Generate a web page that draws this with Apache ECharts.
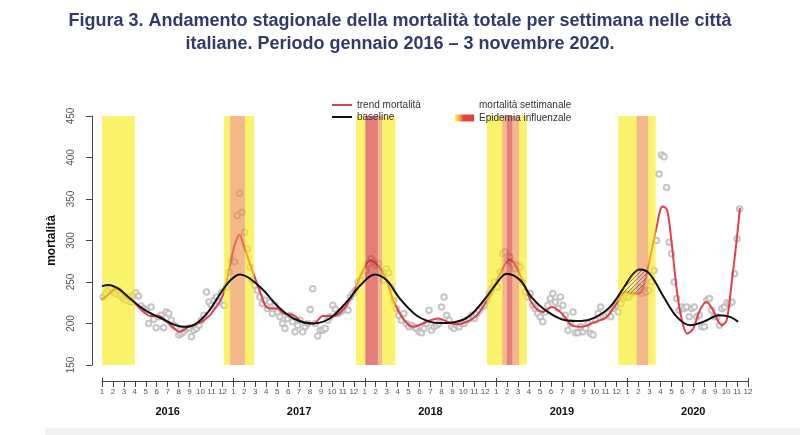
<!DOCTYPE html>
<html><head><meta charset="utf-8">
<script src="https://cdn.jsdelivr.net/npm/echarts/dist/echarts.min.js"></script>
<style>html,body{margin:0;padding:0;background:#fff}#c{width:800px;height:435px}</style>
</head><body><div id="c"></div><script>
// ---- data (x in months since Jan 2016) ----
const years = ['2016','2017','2018','2019','2020'];
const monthTickLabels = ['1','2','3','4','5','6','7','8','9','10','11','12'];
const yTicks = [150,200,250,300,350,400,450];

const w2016 = [232,236,240,243,238, 236,240,233,230, 228,232,226,234, 237,233,221,218, 216,200,220,205,195, 208,210,195,214, 212,204,198,196, 186,188,190,193,195, 184,192,194,198, 204,210,238,226, 222,228,232,226,238, 222,244,262,276];
const w2017 = [274,330,357,334,310, 290,268,252,246, 240,232,224,228, 218,226,212,222, 214,208,200,194,206, 210,202,190,198, 204,190,196,200, 217,242,200,185,192, 192,194,204,208, 222,217,212,214, 216,220,216,232,236, 240,250,252,258];
const w2018 = [264,272,278,274,270, 272,262,252,266, 261,244,228,218, 210,204,212,200, 196,198,196,194,190, 189,194,200,216, 192,196,198,200, 220,232,210,204,196, 194,198,196,200, 200,204,206,210, 206,212,216,220,222, 228,236,242,250];
const w2019 = [244,262,284,286,276, 280,272,266,270, 268,250,238,232, 236,222,218,212, 208,202,214,222,230, 236,226,218,232, 222,210,192,200, 214,189,189,196,190, 194,200,188,186, 204,212,220,208, 210,212,208,218,222, 214,224,230,232];
const w2020 = [232,236,238,240,244, 236,240,238,240, 250,264,300,380, 403,401,364,298, 284,250,230,216,220, 218,220,208,218, 220,208,210,196, 196,228,230,216,208, 208,198,218,220, 225,224,226,260, 302,338];

const trendX = [0,0.5,1.0,1.34,1.8,2.4,3.0,3.8,4.4,5.2,5.9,6.5,7.1,7.9,8.5,9.1,9.7,10.2,10.7,11.1,11.5,11.85,12.2,12.55,12.9,13.4,14.0,14.6,15.0,15.5,16.0,16.6,17.5,18.4,19.3,20.2,21.1,22.0,22.95,23.7,24.5,25.2,26.0,26.6,27.5,28.4,29.3,30.0,30.7,31.6,32.5,33.3,34.1,34.9,35.6,36.5,37.26,38.0,38.8,39.5,40.3,41.1,42.0,42.9,43.8,44.7,45.5,46.1,47.0,47.8,48.5,49.1,49.6,50.2,50.65,51.2,51.6,52.0,52.5,52.9,53.45,54.0,54.6,55.2,55.8,56.6,57.05,57.5,57.96,58.26];
const trendY = [229,234,240,242,238,231,224,214,209,209,202,195,190,196,199,202,208,216,225,236,258,280,298,307,296,276,254,232,220,218,218,212,210,201,200,209,209,216,236,260,276,270,252,228,206,196,200,204,206,202,199,202,208,222,238,264,277,264,238,220,214,220,212,198,196,200,204,208,224,238,236,236,252,288,316,341,337,300,240,208,188,194,216,226,216,198,204,248,300,339];

const baseX = [0,0.6,1.5,2.4,3.3,4.2,5.45,6.5,7.5,8.5,9.7,10.9,11.8,12.6,13.3,14.0,14.9,15.95,17.5,19.3,20.8,22.35,23.6,24.9,26.0,27.2,28.7,30.0,31.0,31.9,33.45,35.0,35.9,36.96,38.2,39.2,40.5,42.3,43.8,45.0,46.4,47.6,48.4,49.1,50.0,51.3,52.5,53.7,54.9,56.4,57.35,58.1];
const baseY = [245,246.5,242,232,222,214,206,199,196,199,214,238,253,259,256,249,238,222,206,200,206,226,246,259,252,230,210,202,200.5,201,208,230,246,260,252,232,216,204,203,207,220,242,258,265,260,232,208,198,202,210,208,202];

const hatchX = [47.45,47.8,48.1,48.4,48.7,49.0,49.3,49.6,49.85];
const hatchTop = [237,247,254,259,263,265,264,263,261];
const hatchBottom = [236,238,237,236,236,236,241,252,260];

// epidemic periods: [start month, end month, intensity]
const bandStart = [0, 11.15,11.7,13.06, 23.2,24.05,25.2,25.6, 35.15,36.55,36.96,37.5,38.1, 47.15,48.83,49.9];
const bandEnd   = [3.0, 11.7,13.06,13.9, 24.05,25.2,25.6,26.8, 36.55,36.96,37.5,38.1,38.8, 48.83,49.9,50.57];
const bandLevel = ['low','low','mid','low','low','high','mid','low','low','mid','high','mid','low','low','mid','low'];

// ---- build ----
const levelColor = {low:'rgba(248,235,8,0.6)', mid:'rgba(235,138,63,0.6)', high:'rgba(208,40,36,0.6)'};
const weekly = [w2016,w2017,w2018,w2019,w2020];
const scatterData = [];
weekly.forEach((arr, yi) => arr.forEach((v, w) => scatterData.push([yi*12 + (w+0.5)*12/52.18, v])));
const trendData = trendX.map((x,i)=>[x, trendY[i]]);
const baseData = baseX.map((x,i)=>[x, baseY[i]]);
const bandData = bandStart.map((s,i)=>[{xAxis:s, itemStyle:{color:levelColor[bandLevel[i]]}},{xAxis:bandEnd[i]}]);

const pc = document.createElement('canvas'); pc.width = 4; pc.height = 4;
const px = pc.getContext('2d'); px.strokeStyle = '#6a60b8'; px.lineWidth = 0.8;
px.beginPath(); px.moveTo(0,4); px.lineTo(4,0); px.moveTo(-1,1); px.lineTo(1,-1); px.moveTo(3,5); px.lineTo(5,3); px.stroke();
const hatchPattern = {image: pc, repeat: 'repeat'};

const chart = echarts.init(document.getElementById('c'), null, {renderer:'canvas'});
const FONT = 'Liberation Sans, Arial, sans-serif';
const axisCommon = {type:'value', min:0, max:59, gridIndex:0, position:'bottom', offset:16};
chart.setOption({
  animation:false,
  backgroundColor:'#fff',
  textStyle:{fontFamily:FONT},
  title:{
    text:'Figura 3. Andamento stagionale della mortalità totale per settimana nelle città\nitaliane. Periodo gennaio 2016 – 3 novembre 2020.',
    left:'center', top:10, padding:0,
    textStyle:{fontFamily:'Liberation Sans Narrow, Liberation Sans, Arial, sans-serif', fontSize:18, fontWeight:'bold', color:'#323a6a', lineHeight:23}
  },
  legend:[
    {data:['trend mortalità','baseline'], orient:'vertical', left:331, top:100, itemWidth:20, itemHeight:8, itemGap:2,
     itemStyle:{opacity:0}, lineStyle:{width:2},
     textStyle:{fontSize:10, color:'#333', fontFamily:FONT}, selectedMode:false, padding:0},
    {data:[{name:'mortalità settimanale', icon:'circle', itemStyle:{color:'rgba(0,0,0,0)', borderWidth:0}},
           {name:'Epidemia influenzale', icon:'rect', itemStyle:{color:new echarts.graphic.LinearGradient(0,0,1,0,[{offset:0,color:'#fff06a'},{offset:0.25,color:'#f6a445'},{offset:0.45,color:'#e2463a'},{offset:1,color:'#e0403a'}])}}],
     orient:'vertical', left:455, top:100, itemWidth:19, itemHeight:7, itemGap:3,
     textStyle:{fontSize:10, color:'#333', fontFamily:FONT}, selectedMode:false, padding:0}
  ],
  grid:{left:102, width:646, top:116, height:249, outerBoundsMode:'none', containLabel:false},
  xAxis:[
    Object.assign({}, axisCommon, {interval:1,
      axisLine:{show:true, onZero:false, lineStyle:{color:'#444', width:1}},
      axisTick:{show:true, length:6, lineStyle:{color:'#444'}},
      axisLabel:{show:true, fontSize:8, color:'#555', margin:7, showMinLabel:true, showMaxLabel:true,
        formatter:v=>monthTickLabels[Math.round(v)%12]},
      splitLine:{show:false}}),
    Object.assign({}, axisCommon, {interval:12,
      axisLine:{show:false, onZero:false},
      axisTick:{show:true, inside:true, length:3, lineStyle:{color:'#444'}},
      axisLabel:{show:false}, splitLine:{show:false}}),
    Object.assign({}, axisCommon, {interval:6,
      axisLine:{show:false, onZero:false}, axisTick:{show:false},
      axisLabel:{show:true, fontSize:11, fontWeight:'bold', color:'#111', margin:25, showMinLabel:true, showMaxLabel:true,
        formatter:v=>{const r=Math.round(v); return r%12===6 ? years[(r-6)/12] : '';}},
      splitLine:{show:false}})
  ],
  yAxis:{type:'value', min:yTicks[0], max:yTicks[yTicks.length-1], interval:50, offset:10, position:'left',
    axisLine:{show:true, onZero:false, lineStyle:{color:'#444', width:1}},
    axisTick:{show:true, length:6, lineStyle:{color:'#444'}},
    axisLabel:{show:true, rotate:90, fontSize:10, color:'#555', margin:16},
    splitLine:{show:false},
    name:'mortalità', nameLocation:'middle', nameGap:34,
    nameTextStyle:{fontSize:12, fontWeight:'bold', color:'#111'}
  },
  graphic:[{type:'rect', left:45, top:428, shape:{width:755, height:7}, style:{fill:'#f2f2f2'}, silent:true}],
  series:[
    {name:'mortalità settimanale', type:'scatter', data:scatterData, symbol:'emptyCircle', symbolSize:5.5,
     itemStyle:{color:'#b8b8b8', borderColor:'#b8b8b8', borderWidth:0.9}, z:1},
    {name:'trend mortalità', type:'line', data:trendData, smooth:0.35, showSymbol:false, symbol:'none',
     lineStyle:{color:'#e0404c', width:2}, itemStyle:{color:'#e0404c'}, z:2},
    {name:'Epidemia influenzale', type:'line', data:[], symbol:'none', itemStyle:{color:'#e0403a'},
     markArea:{silent:true, z:3, label:{show:false}, data:bandData}, z:3},
    {name:'baseline', type:'line', data:baseData, smooth:0.35, showSymbol:false, symbol:'none',
     lineStyle:{color:'#111', width:2}, itemStyle:{color:'#111'}, z:5},
    {name:'hatch', type:'custom', z:6, silent:true, data:[[hatchX[0], hatchTop[0]]],
     renderItem:function(params, api){
       const pts=[];
       for(let i=0;i<hatchX.length;i++) pts.push(api.coord([hatchX[i], hatchTop[i]]));
       for(let i=hatchX.length-1;i>=0;i--) pts.push(api.coord([hatchX[i], hatchBottom[i]]));
       return {type:'polygon', shape:{points:pts}, style:{fill:hatchPattern, stroke:null}};
     }}
  ]
});
</script></body></html>
